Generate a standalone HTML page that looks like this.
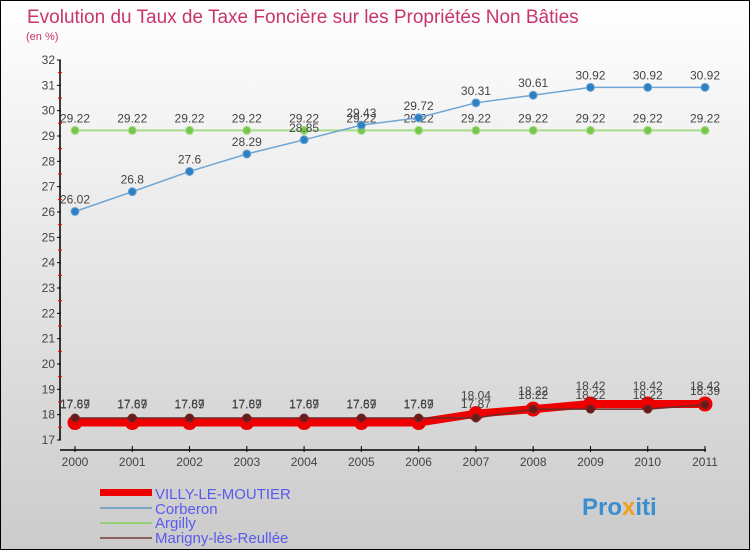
<!DOCTYPE html>
<html><head><meta charset="utf-8"><style>
body{margin:0;}
svg{display:block;font-family:"Liberation Sans",sans-serif;}
</style></head><body>
<svg id="c" width="750" height="550" xmlns="http://www.w3.org/2000/svg">
<defs><linearGradient id="bg" x1="0" y1="0" x2="0" y2="1"><stop offset="0" stop-color="#ffffff"/><stop offset="1" stop-color="#cbcbcb"/></linearGradient></defs>
<rect x="0.5" y="0.5" width="749" height="549" fill="url(#bg)" stroke="#000"/>
<text x="27" y="23" font-size="19" fill="#c8346c">Evolution du Taux de Taxe Foncière sur les Propriétés Non Bâties</text>
<text x="26" y="40" font-size="11" fill="#c8346c">(en %)</text>
<g id="axes"></g>
<g id="series"></g>
<g id="legend" font-size="15" fill="#5a5af0">
<rect x="100" y="489" width="52" height="7" fill="#e00"/>
<text x="155" y="499">VILLY-LE-MOUTIER</text>
<rect x="100" y="507" width="52" height="2" fill="#7ba6c6"/>
<text x="155" y="514">Corberon</text>
<rect x="100" y="522" width="52" height="2" fill="#94cf74"/>
<text x="155" y="528">Argilly</text>
<rect x="100" y="537" width="52" height="2" fill="#8b6060"/>
<text x="155" y="543">Marigny-lès-Reullée</text>
</g>
<text x="582" y="515" font-size="24" font-weight="bold" fill="#3a8fd0">Pro<tspan fill="#f0a020">x</tspan>iti</text>
</svg>
<script>
const years=[2000,2001,2002,2003,2004,2005,2006,2007,2008,2009,2010,2011];
const villy=[17.69,17.69,17.69,17.69,17.69,17.69,17.69,18.04,18.22,18.42,18.42,18.42];
const corberon=[26.02,26.8,27.6,28.29,28.85,29.43,29.72,30.31,30.61,30.92,30.92,30.92];
const argilly=[29.22,29.22,29.22,29.22,29.22,29.22,29.22,29.22,29.22,29.22,29.22,29.22];
const marigny=[17.87,17.87,17.87,17.87,17.87,17.87,17.87,17.87,18.22,18.22,18.22,18.39];
const yTicks=[17,18,19,20,21,22,23,24,25,26,27,28,29,30,31,32];
const NS='http://www.w3.org/2000/svg';
const X=i=>75+i*(630/(years.length-1));
const Y=v=>440-(v-17)*(380/15);
function mk(tag,attrs,parent){const e=document.createElementNS(NS,tag);for(const k in attrs)e.setAttribute(k,attrs[k]);parent.appendChild(e);return e;}
const ax=document.getElementById('axes');
let a=mk('line',{x1:60,y1:Y(32),x2:60,y2:Y(17),stroke:'#000','stroke-width':1.5},ax);


yTicks.forEach(t=>{
 let l=mk('line',{x1:57,y1:Y(t),x2:61,y2:Y(t),stroke:'#000'},ax);
 
 
 if(t<32){let m=mk('line',{x1:58,y1:Y(t+0.5),x2:62,y2:Y(t+0.5),stroke:'#e00'},ax);
 
 }
 let tx=mk('text',{x:55,y:Y(t)+4,'text-anchor':'end','font-size':12,fill:'#444'},ax);tx.textContent=t;
 
 
});
let xa=mk('line',{x1:60,y1:450,x2:706,y2:450,stroke:'#000','stroke-width':1.5},ax);


years.forEach((yr,i)=>{
 let l=mk('line',{x1:X(i),y1:446,x2:X(i),y2:452,stroke:'#000'},ax);
 
 
 let tx=mk('text',{x:X(i),y:466,'text-anchor':'middle','font-size':12,fill:'#444'},ax);tx.textContent=yr;
 
 
});
const sg=document.getElementById('series');
function series(vals,name,color,w,r,fill,labelDy){
 const g=mk('g',{},sg);
 
 
 let p=mk('polyline',{points:vals.map((v,i)=>X(i)+','+Y(v)).join(' '),fill:'none',stroke:color,'stroke-width':w,'stroke-linejoin':'round'},g);
 
 
 vals.forEach((v,i)=>{
  let c=mk('circle',{cx:X(i),cy:Y(v),r:r,fill:fill,stroke:color,'stroke-width':1},g);
  
  
  let t=mk('text',{x:X(i),y:Y(v)+labelDy,'text-anchor':'middle','font-size':12,fill:'#444'},g);t.textContent=v;
  
  
 });
}
series(argilly,'argilly','#a8dc8c',2,4,'#77c84a',-8);
series(corberon,'corberon','#6fa6d6',1.5,4,'#2f80c0',-8);
series(villy,'villy','#ee0000',8,7,'#ee0000',-14);
series(marigny,'marigny','#6a2a2a',1.5,4,'#6a1a1a',-10);
</script>
</body></html>
